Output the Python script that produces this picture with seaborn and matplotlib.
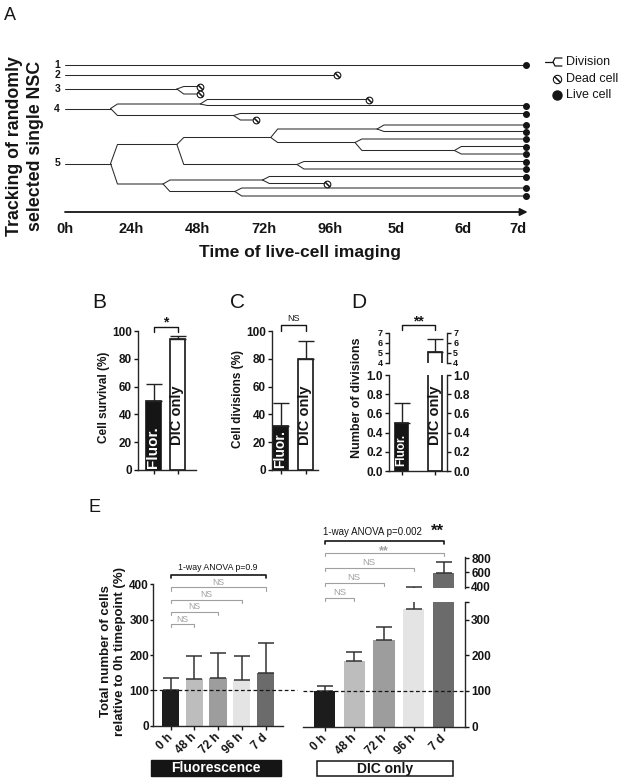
'''
Redraws the live-cell tracking figure: lineage tree (A) and bar panels (B-E)
'''
import matplotlib
matplotlib.use('Agg')

import seaborn           as sns
import matplotlib.pyplot as plt
import pandas            as pnd
from matplotlib.patches import Rectangle

# ---------------------- panel A, lineage of tracked single NSC
# track : vertical position of the cell line, parent : track of the mother cell
cell_track  = [65, 75, 89, 86.5, 94,
               108.5, 104, 99.5, 105.5, 115.5, 113.5, 120,
               163.5, 144.5, 137.5, 129, 125, 131.5, 142.5, 139, 150.5, 146.5, 154,
               164.5, 161.5, 169, 184, 180, 176.5, 183.5, 191.5, 188, 196]
cell_parent = [None, None, None, 89, 89,
               None, 108.5, 104, 104, 108.5, 115.5, 115.5,
               None, 163.5, 144.5, 137.5, 129, 129, 137.5, 142.5, 142.5, 150.5, 150.5,
               144.5, 164.5, 164.5, 163.5, 184, 180, 180, 184, 191.5, 191.5]
cell_start  = [0, 0, 0, 40.5, 40.5,
               0, 16.5, 49, 49, 16.5, 61, 61,
               0, 16.5, 40.5, 74.5, 113, 113, 74.5, 105, 105, 141, 141,
               40.5, 84, 84, 16.5, 35.5, 71.5, 71.5, 35.5, 61.5, 61.5]
cell_end    = [167, 98.5, 40.5, 49, 49,
               16.5, 49, 110, 167, 61, 167, 69,
               16.5, 40.5, 74.5, 113, 167, 167, 105, 167, 141, 167, 167,
               84, 167, 167, 35.5, 71.5, 167, 95, 61.5, 167, 167]
cell_fate   = ['live', 'dead', 'div', 'dead', 'dead',
               'div', 'div', 'dead', 'live', 'div', 'live', 'dead',
               'div', 'div', 'div', 'div', 'live', 'live', 'div', 'live', 'div', 'live', 'live',
               'div', 'live', 'live', 'div', 'div', 'live', 'dead', 'div', 'live', 'live']

a_tick_hours  = [0, 24, 48, 72, 96, 120, 144, 164]
a_tick_labels = ['0h', '24h', '48h', '72h', '96h', '5d', '6d', '7d']
legend_labels = ['Division', 'Dead cell', 'Live cell']

# ---------------------- panels B-D
groups   = ['Fluor.', 'DIC only']
b_values = [50, 94]
b_errors = [12, 2.5]
c_values = [32, 79.5]
c_errors = [16, 13.5]
d_values = [0.50, 5.1]
d_errors = [0.21, 1.3]

# ---------------------- panel E
e_times        = ['0 h', '48 h', '72 h', '96 h', '7 d']
e_fluor_values = [100, 132, 135, 128, 149]
e_fluor_errors = [36, 65, 70, 70, 84]
e_dic_values   = [100, 185, 243, 329, 589]
e_dic_errors   = [15, 25, 37, 61, 163]
e_colors       = ['#1c1c1c', '#bdbdbd', '#9d9d9d', '#e4e4e4', '#6b6b6b']
e_fluor_tests  = ['NS', 'NS', 'NS', 'NS']
e_dic_tests    = ['NS', 'NS', 'NS', '**']

W, H = 628, 781
INK  = '#151515'
GREY = '#a0a0a0'
# ----------------------
def _px_axes(fig, x0, y0, x1, y1):
    '''
    Axes from a pixel box, origin at top left
    '''
    return fig.add_axes([x0 / W, 1 - y1 / H, (x1 - x0) / W, (y1 - y0) / H])
# ----------------------
def _set_xlim(ax, px_left, px_right, px_first, px_step):
    '''
    Bar i sits at px_first + i * px_step
    '''
    ax.set_xlim((px_left - px_first) / px_step, (px_right - px_first) / px_step)
# ----------------------
def _bracket(ax, x0, x1, y, tick, color=INK, lw=1.0):
    ax.plot([x0, x0, x1, x1], [y - tick, y, y, y - tick], color=color, lw=lw, clip_on=False)
# ----------------------
def _dead(ax, x, y, ms):
    ax.plot(x, y, marker='o', ms=ms, mfc='white', mec=INK, mew=0.8, zorder=3, clip_on=False)
    ax.plot(x, y, marker=(2, 2, 45), ms=ms, color=INK, mew=0.8, zorder=4, clip_on=False)
# ----------------------
def _plot_tree(fig, ov):
    ax = _px_axes(fig, 65, 55, 529, 215)
    ax.set_xlim(0, 168)
    ax.set_ylim(215, 55)
    ax.axis('off')

    dt = 2.5
    for track, parent, start, end, fate in zip(cell_track, cell_parent, cell_start, cell_end, cell_fate):
        if parent is None:
            xs, ys = [start, end], [track, track]
        else:
            xs, ys = [start, start + dt, end], [parent, track, track]
        ax.plot(xs, ys, color='#2a2a2a', lw=0.75)
        if fate == 'dead':
            _dead(ax, end, track, 4.8)
        elif fate == 'live':
            ax.plot(end, track, marker='o', ms=4, color=INK, zorder=3, clip_on=False)

    founders = [t for t, p in zip(cell_track, cell_parent) if p is None]
    for num, track in enumerate(founders, start=1):
        ax.text(-1.8, track, str(num), ha='right', va='center', fontsize=7.5, clip_on=False)

    ax.annotate('', xy=(167.5, 212), xytext=(0, 212), annotation_clip=False,
                arrowprops=dict(arrowstyle='-|>', color=INK, lw=1.3, mutation_scale=11, shrinkA=0, shrinkB=0))
    for hour, label in zip(a_tick_hours, a_tick_labels):
        ax.text(hour, 229, label, ha='center', va='center', fontsize=10.5, clip_on=False)

    ov.text(300, 252, 'Time of live-cell imaging', ha='center', va='center', fontsize=12.5)
    ov.text(25, 146, 'Tracking of randomly\nselected single NSC', rotation=90, ha='center', va='center',
            fontsize=12.8, linespacing=1.3)
    ov.text(4, 15, 'A', fontsize=13, fontweight='normal', va='center')

    # legend
    ov.plot([545, 553], [62, 62], color=INK, lw=0.9)
    ov.plot([562, 555, 553, 555, 562], [58, 58, 62, 66, 66], color=INK, lw=0.9)
    _dead(ov, 557, 78.5, 6)
    ov.plot(557, 94.5, marker='o', ms=6.5, color=INK)
    for y, label in zip([62, 78.5, 94.5], legend_labels):
        ov.text(566, y, label, fontsize=9, fontweight='normal', va='center')
# ----------------------
def _bar_pair(ax, values, errors, width):
    df = pnd.DataFrame({'group': groups, 'value': values})
    sns.barplot(data=df, x='group', y='value', hue='group', palette=[INK, 'white'], legend=False,
                width=width, edgecolor=INK, linewidth=1.2, errorbar=None, ax=ax)
    ax.errorbar(range(len(values)), values, yerr=[[0] * len(values), errors], fmt='none',
                ecolor='#222222', elinewidth=1, capsize=6, capthick=1, zorder=3)
# ----------------------
def _style(ax, ylim, yticks, labelsize=8.5, length=3, pad=1.5):
    sns.despine(ax=ax)
    ax.set_ylim(*ylim)
    ax.set_yticks(yticks)
    ax.set_xlabel('')
    ax.set_ylabel('')
    ax.set_xticklabels([])
    ax.set_facecolor('none')
    ax.tick_params(axis='both', length=length, width=1, pad=pad, labelsize=labelsize)
    for side in ('left', 'bottom'):
        ax.spines[side].set_linewidth(1)
# ----------------------
def _plot_b(fig, ov):
    ax = _px_axes(fig, 138, 331, 196, 470)
    _bar_pair(ax, b_values, b_errors, width=0.6)
    _style(ax, (0, 100), range(0, 101, 20))
    _set_xlim(ax, 138, 196, 153.5, 24)
    ax.text(0, 1.5, 'Fluor.', rotation=90, ha='center', va='bottom', color='white', fontsize=11)
    ax.text(1, 39.5, 'DIC only', rotation=90, ha='center', va='center', color=INK, fontsize=10.5)
    _bracket(ax, 0, 1, 103, 4)
    ax.text(0.5, 103, '*', ha='center', va='baseline', fontsize=10)
    ov.text(103.5, 397, 'Cell survival (%)', rotation=90, ha='center', va='center', fontsize=8.5)
    ov.text(92, 303, 'B', fontsize=15, fontweight='normal', va='center')
# ----------------------
def _plot_c(fig, ov):
    ax = _px_axes(fig, 272, 331, 318, 470)
    _bar_pair(ax, c_values, c_errors, width=0.6)
    _style(ax, (0, 100), range(0, 101, 20))
    _set_xlim(ax, 272, 318, 280.5, 25)
    ax.text(0, 1.5, 'Fluor.', rotation=90, ha='center', va='bottom', color='white', fontsize=10)
    ax.text(1, 39.5, 'DIC only', rotation=90, ha='center', va='center', color=INK, fontsize=10.5)
    _bracket(ax, 0, 1, 104, 4)
    ax.text(0.5, 109, 'NS', ha='center', va='center', fontsize=6.5, fontweight='normal')
    ov.text(237.5, 399, 'Cell divisions (%)', rotation=90, ha='center', va='center', fontsize=8.5)
    ov.text(230, 303, 'C', fontsize=15, fontweight='normal', va='center')
# ----------------------
def _plot_d(fig, ov):
    ax_top = _px_axes(fig, 389, 332.7, 447, 362.7)
    ax_bot = _px_axes(fig, 389, 375, 447, 471)
    for ax, ylim, ticks, size in ((ax_top, (4, 7), [4, 5, 6, 7], 6.5),
                                  (ax_bot, (0, 1), [0, 0.2, 0.4, 0.6, 0.8, 1.0], 8.5)):
        _bar_pair(ax, d_values, d_errors, width=0.39)
        _style(ax, ylim, ticks, labelsize=size)
        _set_xlim(ax, 389, 447, 401.5, 33.5)
        twin = ax.twinx()
        twin.set_ylim(*ylim)
        twin.set_yticks(ticks)
        for side in ('left', 'top', 'bottom'):
            twin.spines[side].set_visible(False)
        twin.spines['right'].set_linewidth(1)
        twin.tick_params(axis='y', length=3, width=1, pad=1.5, labelsize=size)

    ax_top.spines['bottom'].set_visible(False)
    ax_top.tick_params(axis='x', length=0)
    ax_bot.text(0, 0.05, 'Fluor.', rotation=90, ha='center', va='bottom', color='white', fontsize=8.5)
    ax_bot.text(1, 0.58, 'DIC only', rotation=90, ha='center', va='center', color=INK, fontsize=10.5)
    _bracket(ax_top, 0, 1, 7.77, 0.5)
    ax_top.text(0.5, 7.77, '**', ha='center', va='baseline', fontsize=10)
    ov.text(357, 398, 'Number of divisions', rotation=90, ha='center', va='center', fontsize=9)
    ov.text(351, 303, 'D', fontsize=15, fontweight='normal', va='center')
# ----------------------
def _bar_time(ax, values, errors, width):
    df = pnd.DataFrame({'time': e_times, 'value': values})
    sns.barplot(data=df, x='time', y='value', hue='time', palette=e_colors, legend=False,
                width=width, linewidth=0, errorbar=None, ax=ax)
    ax.errorbar(range(len(values)), values, yerr=[[0] * len(values), errors], fmt='none',
                ecolor='#333333', elinewidth=1.1, capsize=6, capthick=1.1, zorder=3)
# ----------------------
def _time_labels(ax):
    ax.set_xticks(range(len(e_times)))
    ax.set_xticklabels(e_times, rotation=45, ha='right', va='center', rotation_mode='anchor', fontsize=8.5)
    ax.tick_params(axis='x', length=3, width=1, pad=4)
# ----------------------
def _plot_e(fig, ov):
    # fluorescence
    ax = _px_axes(fig, 153, 584.3, 283, 725.7)
    _bar_time(ax, e_fluor_values, e_fluor_errors, width=0.72)
    _style(ax, (0, 400), range(0, 401, 100), length=2, pad=0.8)
    _set_xlim(ax, 153, 283, 170.5, 23.75)
    _time_labels(ax)
    ax.plot([ax.get_xlim()[0], 5.33], [100, 100], ls=(0, (3, 2)), lw=0.9, color=INK, clip_on=False, zorder=4)

    _bracket(ax, 0, 4, 426, 7, lw=1.2)
    ax.text(2, 440, '1-way ANOVA p=0.9', ha='center', va='baseline', fontsize=6.3, fontweight='normal')
    for other, label, y in zip([4, 3, 2, 1], e_fluor_tests, [391, 357, 322, 287]):
        _bracket(ax, 0, other, y, 9, color=GREY, lw=0.8)
        ax.text(other / 2, y + 7, label, ha='center', va='baseline', fontsize=6.2, fontweight='normal', color=GREY)

    # DIC only, broken right axis
    ax_top = _px_axes(fig, 303, 556.9, 465, 588.1)
    ax_bot = _px_axes(fig, 303, 601.7, 465, 726.7)
    for axr, ylim, ticks in ((ax_top, (380, 820), [400, 600, 800]),
                             (ax_bot, (0, 350), [0, 100, 200, 300, 350])):
        _bar_time(axr, e_dic_values, e_dic_errors, width=0.71)
        _style(axr, ylim, ticks)
        sns.despine(ax=axr, left=True, right=False)
        axr.yaxis.set_ticks_position('right')
        axr.spines['right'].set_linewidth(1)
        _set_xlim(axr, 303, 465, 324.5, 29.75)
    ax_bot.set_yticklabels(['0', '100', '200', '300', ''])
    ax_top.spines['bottom'].set_visible(False)
    ax_top.tick_params(axis='x', length=0)
    _time_labels(ax_bot)
    ax_bot.plot([ax_bot.get_xlim()[0], 4.66], [100, 100], ls=(0, (3, 2)), lw=0.9, color=INK, zorder=4)

    _bracket(ax_bot, 0, 4, 520, 9, lw=1.2)
    ax_bot.text(-0.05, 537, '1-way ANOVA p=0.002', ha='left', va='baseline', fontsize=7, fontweight='normal')
    ax_bot.text(3.78, 534, '**', ha='center', va='baseline', fontsize=12)
    for other, label, y in zip([4, 3, 2, 1], e_dic_tests[::-1], [486, 444, 402, 360]):
        _bracket(ax_bot, 0, other, y, 9, color=GREY, lw=0.8)
        if label == '**':
            ax_bot.text(other / 2, y - 2, label, ha='center', va='baseline', fontsize=9, color=GREY)
        else:
            ax_bot.text(other / 2, y + 8, label, ha='center', va='baseline', fontsize=6.8,
                        fontweight='normal', color=GREY)

    ov.text(113, 651, 'Total number of cells\nrelative to 0h timepoint (%)', rotation=90, ha='center',
            va='center', fontsize=9.5, linespacing=1.2)
    ov.text(89, 508, 'E', fontsize=13, fontweight='normal', va='center')

    ov.add_patch(Rectangle((151, 760), 130, 16, fc=INK, ec=INK, lw=1))
    ov.text(216, 768, 'Fluorescence', color='white', ha='center', va='center', fontsize=10)
    ov.add_patch(Rectangle((317, 761), 136, 15, fc='white', ec=INK, lw=1.1))
    ov.text(385, 768.5, 'DIC only', color=INK, ha='center', va='center', fontsize=10)
# ----------------------
def main():
    '''
    Entry point
    '''
    sns.set_style('ticks')
    plt.rcParams['font.family'] = ['Liberation Sans', 'DejaVu Sans']
    plt.rcParams['font.weight'] = 'bold'
    plt.rcParams['text.color']  = INK
    plt.rcParams['xtick.color'] = INK
    plt.rcParams['ytick.color'] = INK

    fig = plt.figure(figsize=(W / 100, H / 100), dpi=100)
    ov  = fig.add_axes([0, 0, 1, 1])
    ov.set_xlim(0, W)
    ov.set_ylim(H, 0)
    ov.axis('off')
    ov.set_zorder(5)

    _plot_tree(fig, ov)
    _plot_b(fig, ov)
    _plot_c(fig, ov)
    _plot_d(fig, ov)
    _plot_e(fig, ov)

    fig.savefig('out.png', dpi=100)
# ----------------------
if __name__ == '__main__':
    main()
